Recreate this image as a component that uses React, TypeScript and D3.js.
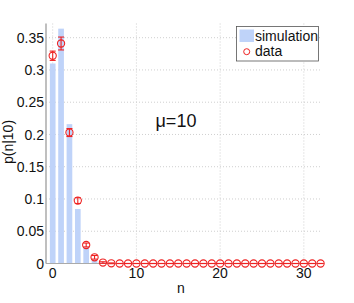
import { useMemo } from "react";
import * as d3 from "d3";

const simN = [0, 1, 2, 3, 4, 5, 6, 7];
const simP = [0.31, 0.364, 0.216, 0.0845, 0.025, 0.006, 0.0015, 0.0004];

const dataN = d3.range(0, 33);
const dataP = [
  0.322, 0.341, 0.203, 0.0975, 0.0287, 0.0096, 0.0015, 0.0003, 0, 0, 0, 0, 0, 0, 0, 0, 0,
  0, 0, 0, 0, 0, 0, 0, 0, 0, 0, 0, 0, 0, 0, 0, 0,
];
const dataErr = [
  0.0072, 0.01, 0.0062, 0.0045, 0.003, 0.0028, 0.0012, 0.0006, 0, 0, 0, 0, 0, 0, 0, 0, 0,
  0, 0, 0, 0, 0, 0, 0, 0, 0, 0, 0, 0, 0, 0, 0, 0,
];

const yTicks = [0, 0.05, 0.1, 0.15, 0.2, 0.25, 0.3, 0.35];
const yTickLabels = ["0", "0.05", "0.1", "0.15", "0.2", "0.25", "0.3", "0.35"];
const xTicks = [0, 10, 20, 30];

const font = "'Liberation Sans', Arial, Helvetica, sans-serif";
const barColor = "#bfd3f9";
const red = "#ee2222";

const App = () => {
  const width = 354;
  const height = 303;
  const plot = { left: 46, right: 321, top: 23.5, bottom: 263.5 };

  const x = useMemo(
    () => d3.scaleLinear().domain([-0.8, 32.05]).range([plot.left, plot.right]),
    []
  );
  const y = useMemo(
    () => d3.scaleLinear().domain([0, 0.372]).range([plot.bottom, plot.top]),
    []
  );
  const barW = x(0.68) - x(0);

  return (
    <svg
      width={width}
      height={height}
      style={{ position: "absolute", left: 0, top: 0, background: "#fff" }}
      fontFamily={font}
    >
      {/* grid */}
      {yTicks.slice(1).map((t) => (
        <line
          key={"gy" + t}
          x1={plot.left}
          x2={plot.right}
          y1={y(t)}
          y2={y(t)}
          stroke="#cfcfcf"
          strokeDasharray="1,2"
        />
      ))}
      {xTicks.map((t) => (
        <line
          key={"gx" + t}
          x1={x(t)}
          x2={x(t)}
          y1={plot.top}
          y2={plot.bottom}
          stroke="#cfcfcf"
          strokeDasharray="1,2"
        />
      ))}

      {/* bars */}
      {simN.map((n, i) => (
        <rect
          key={"b" + n}
          x={x(n) - barW / 2}
          y={y(simP[i])}
          width={barW}
          height={y(0) - y(simP[i])}
          fill={barColor}
        />
      ))}

      {/* axes */}
      <line x1={plot.left} x2={plot.left} y1={plot.top} y2={plot.bottom} stroke="#aaa" strokeWidth={1.5} />
      <line x1={plot.left} x2={plot.right} y1={plot.bottom} y2={plot.bottom} stroke="#aaa" strokeWidth={1} />

      {yTicks.map((t, i) => (
        <text
          key={"ty" + t}
          x={plot.left - 2}
          y={y(t)}
          dy="0.36em"
          textAnchor="end"
          fontSize={14}
          fill="#111"
        >
          {yTickLabels[i]}
        </text>
      ))}
      {xTicks.map((t) => (
        <text
          key={"tx" + t}
          x={x(t)}
          y={277.5}
          textAnchor="middle"
          fontSize={14}
          fill="#111"
        >
          {t}
        </text>
      ))}

      <text x={x(15.3)} y={293} textAnchor="middle" fontSize={14} fill="#111">
        n
      </text>
      <text
        transform={`translate(13, 142) rotate(-90)`}
        textAnchor="middle"
        fontSize={14}
        fill="#111"
      >
        p(n|10)
      </text>

      {/* data with error bars */}
      {dataN.map((n, i) => {
        const cx = x(n);
        const lo = y(dataP[i] - dataErr[i]);
        const hi = y(dataP[i] + dataErr[i]);
        return (
          <g key={"d" + n} stroke={red} fill="none" strokeWidth={1.1}>
            <line x1={cx} x2={cx} y1={lo} y2={hi} />
            <line x1={cx - 3} x2={cx + 3} y1={lo} y2={lo} />
            <line x1={cx - 3} x2={cx + 3} y1={hi} y2={hi} />
            <circle cx={cx} cy={y(dataP[i])} r={3.6} />
          </g>
        );
      })}

      <text x={155.5} y={126.5} fontSize={18} fill="#111">
        μ=10
      </text>

      {/* legend */}
      <rect x={236.5} y={26.5} width={82} height={34.5} fill="#fff" stroke="#555" strokeWidth={0.8} />
      <rect x={239.5} y={29.5} width={14.5} height={12.5} fill={barColor} />
      <text x={255} y={40.5} fontSize={14} fill="#111">
        simulation
      </text>
      <circle cx={246.7} cy={51.7} r={3} fill="none" stroke={red} strokeWidth={1} />
      <text x={255} y={55.5} fontSize={14} fill="#111">
        data
      </text>
    </svg>
  );
};

export default App;
